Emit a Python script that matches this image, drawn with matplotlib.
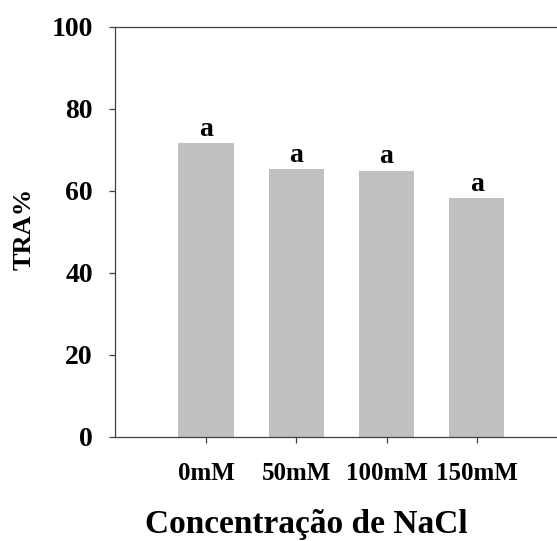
import matplotlib
matplotlib.use("Agg")
import matplotlib.pyplot as plt

plt.rcParams['font.family'] = ['Liberation Serif', 'DejaVu Serif']
plt.rcParams['font.weight'] = 'bold'

# dados
categorias = ['0mM', '50mM', '100mM', '150mM']
tra = [71.6, 65.3, 65.0, 58.2]
letras = ['a', 'a', 'a', 'a']
yticks = [0, 20, 40, 60, 80, 100]

cor_barra = '#c0c0c0'
cor_eixo = '#404040'

fig = plt.figure(figsize=(5.57, 5.41), dpi=100)
ax = fig.add_axes([115 / 557, 104 / 541, 1 - 115 / 557, 410 / 541])

x = list(range(len(categorias)))
ax.bar(x, tra, width=0.615, color=cor_barra, edgecolor='none')

for xi, v, l in zip(x, tra, letras):
    ax.annotate(l, (xi, v), xytext=(0, 1), textcoords='offset points',
                ha='center', va='bottom', fontsize=20, fontweight='bold')

ax.set_xlim(-1.01, 3.89)
ax.set_ylim(0, 100)
ax.set_yticks(yticks)
ax.set_xticks(x)
ax.set_xticklabels(categorias)

for lado in ['left', 'top', 'bottom']:
    ax.spines[lado].set_color(cor_eixo)
    ax.spines[lado].set_linewidth(0.9)
ax.spines['right'].set_visible(False)

ax.tick_params(axis='y', direction='out', length=4, width=0.9, color=cor_eixo,
               pad=12, labelsize=20)
ax.tick_params(axis='x', direction='out', length=4, width=0.9, color=cor_eixo,
               pad=14, labelsize=18)

fig.text(24 / 557, 1 - 229 / 541, 'TRA%', rotation=90, ha='center', va='center',
         fontsize=19, fontweight='bold')
fig.text(306 / 557, 1 - 524 / 541, 'Concentração de NaCl', ha='center', va='center',
         fontsize=24, fontweight='bold')

fig.savefig('out.png', dpi=100)
